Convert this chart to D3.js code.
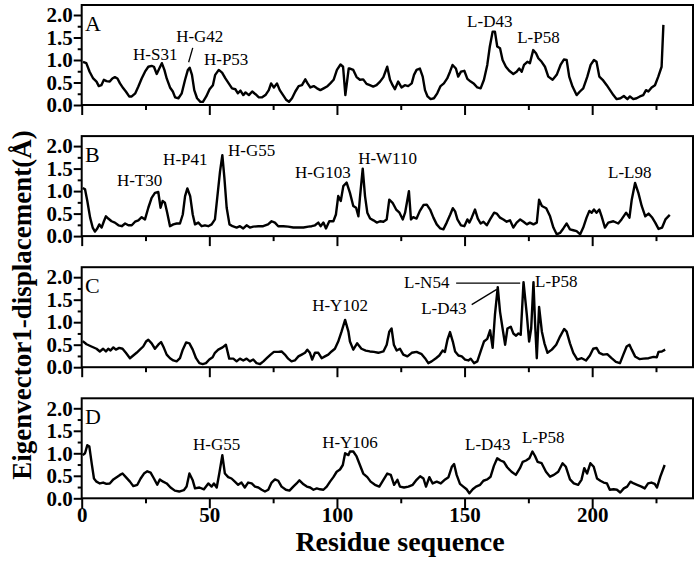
<!DOCTYPE html>
<html>
<head>
<meta charset="utf-8">
<script src="https://cdn.jsdelivr.net/npm/d3@7/dist/d3.min.js"></script>
<style>
  body { margin: 0; background: #fff; }
  svg text { font-family: "Liberation Serif", "Times New Roman", serif; }
</style>
</head>
<body>
<div id="chart"></div>
<script>
// residue, displacement pairs
let seriesA = [[0.5,0.96],[1.8,0.93],[3.1,0.74],[4.5,0.59],[5.8,0.52],[6.7,0.42],[7.7,0.44],[8.7,0.56],[9.7,0.53],[11,0.52],[12,0.59],[13,0.62],[14,0.59],[15,0.48],[16.3,0.37],[17.3,0.30],[18.6,0.19],[19.6,0.19],[21,0.26],[22.2,0.41],[23.5,0.59],[24.8,0.74],[26.1,0.85],[27.4,0.87],[28.3,0.85],[29.4,0.69],[30.4,0.81],[31.4,0.93],[32.4,0.78],[33.3,0.59],[34.6,0.39],[35.7,0.30],[36.6,0.17],[37.9,0.15],[39.2,0.26],[40.5,0.56],[41.6,0.78],[42.3,0.83],[43.2,0.67],[44.1,0.33],[45.2,0.15],[46.5,0.07],[47.5,0.07],[48.8,0.19],[50.1,0.35],[51.4,0.44],[52.3,0.67],[53.7,0.78],[55,0.72],[56.3,0.59],[57.6,0.48],[58.9,0.37],[60.2,0.35],[61.2,0.26],[62.2,0.32],[63.3,0.22],[64.2,0.28],[65.5,0.22],[66.8,0.30],[68.1,0.24],[69.4,0.17],[70.7,0.17],[72,0.22],[73.3,0.33],[74.2,0.48],[75.3,0.39],[76.5,0.48],[77.6,0.33],[78.9,0.22],[80.2,0.11],[81.2,0.07],[82.4,0.15],[83.7,0.30],[85,0.42],[86.3,0.44],[87.6,0.57],[88.5,0.48],[89.6,0.39],[90.9,0.42],[92.2,0.37],[93.5,0.33],[94.8,0.37],[96.1,0.41],[97.4,0.48],[98.7,0.56],[100,0.78],[101.4,0.90],[102.4,0.85],[103.3,0.22],[104.6,0.81],
  [105.1,0.81],[106.4,0.78],[107.7,0.62],[109.0,0.56],[110.3,0.57],[111.6,0.47],[112.9,0.44],[114.2,0.41],[115.5,0.44],[116.9,0.52],[118.2,0.62],[119.7,0.85],[120.8,0.56],[121.8,0.44],[122.7,0.35],[124.0,0.52],[125.3,0.39],[126.6,0.44],[127.9,0.42],[129.3,0.48],[130.2,0.67],[131.2,0.78],[132.5,0.81],[133.6,0.63],[134.5,0.33],[135.5,0.19],[136.7,0.13],[138.0,0.15],[139.3,0.26],[140.6,0.42],[141.9,0.48],[143.2,0.59],[144.3,0.74],[145.3,0.89],[146.6,0.81],[147.5,0.63],[148.6,0.74],[149.9,0.76],[151.1,0.58],[152.4,0.52],[153.7,0.47],[155.0,0.39],[156.3,0.37],[157.6,0.56],[158.9,0.89],[159.9,1.30],[161.0,1.63],[161.9,1.63],[162.8,1.30],[163.9,1.26],[164.9,1.00],[166.2,0.85],[167.5,0.76],[169.1,0.69],[170.4,0.74],[171.4,0.81],[172.4,0.74],[173.3,0.89],[174.6,0.96],[175.6,0.93],[176.9,1.22],[178.0,1.15],[178.9,1.04],[180.2,0.96],[181.5,0.85],[182.8,0.63],[184.5,0.56],[186.1,0.67],[187.6,0.89],[188.9,1.01],[190.0,1.00],[191.0,0.63],[192.3,0.41],[193.9,0.22],[195.2,0.30],[196.5,0.37],[198.1,0.63],[199.4,0.89],[200.7,1.00],[201.7,0.96],[202.8,0.63],[204.1,0.56],[205.7,0.44],[207.0,0.33],[208.3,0.22],[209.6,0.13],[211.1,0.15],[212.4,0.20],[213.8,0.13],[214.8,0.19],[216.1,0.13],[217.4,0.15],[218.7,0.19],[220.0,0.22],[221.1,0.33],[222.0,0.30],[223.3,0.39],[224.6,0.44],[225.9,0.63],[227.2,0.85],[227.9,1.78]];

let seriesB = [[0.4,1.07],[1.3,1.04],[2.2,0.78],[3.3,0.41],[4.3,0.19],[5.2,0.10],[6.1,0.17],[6.9,0.26],[7.8,0.19],[8.7,0.33],[9.5,0.44],[10.4,0.39],[11.7,0.33],[13.0,0.30],[14.4,0.24],[15.7,0.22],[17.0,0.28],[18.3,0.24],[19.6,0.24],[20.9,0.32],[22.2,0.35],[23.5,0.42],[24.8,0.37],[26.1,0.63],[27.4,0.85],[28.7,0.96],[30.0,0.98],[30.9,0.63],[31.7,0.78],[32.6,0.74],[33.5,0.52],[34.6,0.22],[35.9,0.26],[37.2,0.28],[38.5,0.28],[39.6,0.48],[40.5,0.89],[41.4,1.06],[42.5,0.89],[43.5,0.48],[44.4,0.26],[45.7,0.30],[47.0,0.22],[48.3,0.24],[49.6,0.22],[50.9,0.26],[52.2,0.37],[53.1,0.85],[54.2,1.44],[55.1,1.80],[55.9,1.30],[56.8,0.63],[57.9,0.26],[59.1,0.22],[60.7,0.19],[62.0,0.22],[63.3,0.17],[64.6,0.24],[65.9,0.19],[67.2,0.21],[69.2,0.22],[71.1,0.22],[73.0,0.26],[74.4,0.33],[75.7,0.30],[77.0,0.22],[79.0,0.22],[80.9,0.21],[82.9,0.19],[84.9,0.19],[86.9,0.19],[88.8,0.21],[90.1,0.22],[91.4,0.24],[92.7,0.30],[93.6,0.22],[94.7,0.30],[95.7,0.17],[97.0,0.33],[98.6,0.33],[99.6,0.48],[100.5,0.89],[101.5,0.78],[102.5,1.11],[103.8,1.19],
  [105.1,0.96],[106.4,0.67],[107.5,0.63],[108.4,0.44],[109.0,0.85],[110.1,1.50],[111.0,0.89],[111.9,0.52],[113.0,0.39],[114.3,0.35],[115.6,0.30],[116.9,0.33],[118.2,0.32],[119.5,0.37],[120.5,0.81],[121.8,0.74],[123.2,0.59],[124.5,0.52],[125.8,0.37],[126.7,0.52],[127.4,0.74],[128.2,1.00],[129.0,0.37],[129.9,0.42],[131.2,0.39],[132.5,0.56],[133.9,0.69],[135.2,0.70],[136.5,0.59],[137.8,0.41],[139.1,0.26],[140.5,0.17],[141.7,0.15],[143.0,0.30],[144.4,0.48],[145.4,0.62],[146.3,0.55],[147.2,0.37],[148.6,0.24],[149.9,0.22],[151.1,0.37],[151.9,0.30],[152.8,0.41],[154.1,0.59],[155.2,0.39],[156.3,0.28],[157.4,0.32],[158.7,0.24],[160.0,0.37],[161.6,0.52],[162.6,0.50],[163.9,0.41],[165.2,0.37],[166.5,0.32],[167.8,0.35],[169.1,0.19],[170.4,0.30],[171.8,0.37],[173.1,0.32],[174.4,0.26],[175.6,0.30],[177.0,0.26],[178.3,0.30],[179.2,0.81],[180.3,0.67],[182.0,0.62],[183.5,0.44],[184.8,0.19],[186.1,0.04],[187.4,0.07],[188.7,0.17],[190.0,0.28],[191.3,0.15],[192.6,0.13],[193.9,0.11],[195.3,0.04],[196.5,0.19],[197.8,0.41],[198.9,0.56],[199.8,0.52],[200.7,0.59],[201.7,0.52],[202.8,0.59],[203.7,0.44],[205.0,0.19],[206.3,0.30],[208.3,0.33],[210.2,0.28],[211.5,0.37],[213.3,0.52],[214.6,0.41],[215.5,0.81],[216.8,1.18],[218.1,0.96],[219.4,0.67],[220.8,0.44],[222.1,0.50],[223.4,0.42],[224.7,0.30],[226.0,0.16],[227.4,0.19],[228.7,0.37],[230.4,0.47]];

let seriesC = [[0.4,0.58],[1.9,0.51],[3.8,0.46],[5.8,0.41],[7.1,0.35],[8.4,0.41],[9.5,0.35],[10.4,0.41],[11.3,0.37],[12.4,0.44],[13.4,0.39],[14.7,0.43],[16.0,0.41],[17.3,0.32],[18.9,0.20],[20.2,0.26],[21.5,0.32],[22.8,0.39],[24.1,0.46],[25.2,0.57],[26.1,0.61],[27.4,0.53],[28.7,0.41],[30.0,0.50],[31.1,0.56],[32.2,0.43],[33.3,0.28],[34.6,0.20],[35.9,0.15],[37.2,0.13],[38.5,0.20],[39.6,0.39],[40.9,0.55],[42.2,0.53],[43.5,0.39],[44.8,0.20],[46.1,0.09],[47.4,0.07],[48.7,0.09],[50.0,0.17],[51.3,0.22],[52.2,0.32],[53.5,0.39],[55.2,0.44],[56.5,0.50],[57.8,0.19],[59.4,0.19],[60.7,0.13],[62.0,0.19],[63.3,0.15],[64.6,0.19],[65.9,0.13],[67.2,0.17],[68.5,0.09],[69.9,0.07],[71.2,0.13],[72.5,0.20],[74.0,0.28],[75.3,0.34],[77.0,0.34],[78.3,0.35],[79.6,0.28],[80.9,0.19],[82.2,0.13],[83.5,0.15],[84.9,0.24],[86.2,0.28],[87.5,0.32],[88.4,0.39],[89.4,0.32],[90.3,0.17],[91.4,0.32],[92.7,0.32],[94.0,0.20],[95.3,0.24],[96.6,0.28],[97.9,0.35],[99.2,0.41],[100.5,0.57],[101.8,0.79],[103.2,1.05],[104.5,0.79],
  [105.1,0.57],[106.4,0.39],[107.9,0.53],[109.6,0.41],[111.3,0.37],[112.9,0.35],[114.5,0.34],[116.2,0.32],[118.2,0.35],[119.5,0.50],[120.5,0.79],[121.4,0.86],[122.3,0.50],[123.4,0.37],[124.7,0.41],[126.0,0.28],[127.6,0.24],[129.3,0.32],[131.2,0.34],[133.2,0.29],[134.5,0.20],[135.8,0.09],[137.1,0.13],[138.8,0.20],[140.1,0.26],[141.4,0.37],[142.3,0.34],[143.3,0.61],[144.3,0.78],[145.4,0.57],[146.3,0.35],[147.6,0.26],[148.9,0.24],[150.2,0.17],[151.5,0.15],[152.4,0.19],[153.7,0.09],[155.0,0.13],[156.3,0.35],[157.6,0.57],[158.9,0.63],[160.0,0.82],[161.0,0.43],[161.9,1.16],[163.0,1.78],[163.9,1.23],[164.9,0.86],[165.9,0.50],[166.8,0.86],[168.1,0.90],[169.1,0.75],[170.2,0.70],[171.1,0.75],[172.0,0.72],[173.1,1.89],[174.4,1.16],[175.3,0.57],[176.1,0.86],[177.0,1.89],[177.6,1.01],[178.3,0.20],[179.2,1.34],[180.3,0.79],[181.3,0.53],[182.5,0.32],[184.2,0.39],[185.9,0.50],[187.4,0.68],[189.0,0.85],[190.0,0.79],[191.3,0.53],[192.6,0.32],[194.2,0.17],[195.9,0.20],[197.6,0.15],[199.1,0.26],[200.4,0.41],[201.7,0.43],[202.8,0.32],[204.3,0.28],[205.9,0.29],[207.6,0.20],[209.3,0.12],[210.9,0.09],[212.2,0.28],[213.5,0.46],[214.6,0.50],[215.5,0.39],[216.8,0.24],[218.5,0.18],[220.1,0.19],[222.1,0.20],[224.0,0.23],[225.3,0.22],[226.0,0.34],[227.3,0.35],[228.6,0.39]];

let seriesD = [[0.4,0.96],[1.3,1.00],[2.2,1.18],[3.0,1.15],[3.9,0.78],[4.8,0.44],[5.8,0.37],[7.1,0.33],[8.4,0.35],[9.7,0.32],[11.0,0.33],[12.4,0.42],[13.7,0.47],[15.0,0.52],[16.0,0.55],[17.3,0.47],[18.9,0.37],[20.2,0.27],[21.8,0.30],[23.1,0.44],[24.4,0.55],[25.7,0.60],[27.0,0.57],[28.3,0.44],[29.6,0.30],[30.6,0.42],[31.9,0.37],[33.3,0.33],[34.8,0.24],[36.5,0.17],[38.2,0.15],[40.0,0.18],[41.1,0.26],[42.2,0.55],[43.5,0.40],[44.4,0.22],[46.1,0.24],[47.9,0.20],[49.6,0.33],[50.9,0.26],[51.8,0.33],[52.9,0.24],[53.9,0.55],[55.1,0.96],[56.1,0.55],[57.4,0.47],[58.7,0.44],[60.0,0.37],[61.3,0.30],[62.6,0.35],[63.9,0.24],[65.2,0.35],[66.6,0.33],[67.9,0.26],[69.2,0.24],[70.5,0.19],[71.8,0.15],[73.1,0.19],[74.4,0.35],[75.7,0.42],[77.0,0.39],[78.3,0.26],[80.0,0.19],[81.4,0.17],[82.9,0.26],[84.2,0.33],[85.3,0.40],[86.9,0.31],[88.2,0.26],[89.5,0.24],[90.8,0.19],[92.1,0.22],[93.4,0.20],[94.7,0.19],[96.0,0.26],[97.3,0.37],[98.6,0.47],[99.9,0.59],[101.2,0.64],[102.3,0.74],[103.2,1.00],[104.5,0.96],
  [105.1,1.04],[106.4,1.04],[107.7,0.93],[109.0,0.74],[110.3,0.55],[111.9,0.47],[113.2,0.37],[114.9,0.30],[116.6,0.26],[118.2,0.41],[119.7,0.55],[121.1,0.52],[122.4,0.30],[123.7,0.41],[124.7,0.26],[126.3,0.24],[128.0,0.26],[129.7,0.30],[131.2,0.41],[132.6,0.49],[133.9,0.44],[134.9,0.26],[136.2,0.47],[137.5,0.33],[139.1,0.37],[140.7,0.33],[142.4,0.42],[143.7,0.47],[145.0,0.70],[145.9,0.76],[146.9,0.52],[148.2,0.32],[149.5,0.26],[150.8,0.20],[151.9,0.11],[153.2,0.20],[154.5,0.26],[156.1,0.30],[157.4,0.39],[158.9,0.42],[160.2,0.48],[161.5,0.72],[162.8,0.89],[164.1,0.84],[165.4,0.81],[166.7,0.69],[168.4,0.59],[170.1,0.52],[171.7,0.67],[172.8,0.81],[174.1,0.84],[175.4,0.89],[176.6,1.04],[177.6,0.94],[178.6,0.81],[180.2,0.78],[181.9,0.59],[183.5,0.48],[185.0,0.52],[186.7,0.59],[188.4,0.78],[189.7,0.70],[191.3,0.42],[192.8,0.33],[194.5,0.30],[195.8,0.41],[196.9,0.67],[198.0,0.55],[199.3,0.78],[200.6,0.70],[201.9,0.44],[203.2,0.39],[204.5,0.35],[205.8,0.33],[206.9,0.19],[208.4,0.20],[209.7,0.19],[211.0,0.13],[212.4,0.22],[213.7,0.26],[215.0,0.37],[216.3,0.33],[217.6,0.30],[219.3,0.26],[220.6,0.22],[221.9,0.33],[223.2,0.35],[224.5,0.32],[225.4,0.24],[226.7,0.48],[228.4,0.74]];

let panelNames = ["A", "B", "C", "D"];
let xMajor = [0, 50, 100, 150, 200];
let xMinor = [25, 75, 125, 175, 225];
let yMajor = [0, 0.5, 1.0, 1.5, 2.0];
let yMinor = [0.25, 0.75, 1.25, 1.75];

// peak labels: text + anchor (residue, value) of the label's start/baseline
let notesA = [["H-S31", 20.1, 1.00], ["H-G42", 37.0, 1.40], ["H-P53", 47.9, 0.89], ["L-D43", 151.0, 1.73], ["L-P58", 170.6, 1.38]];
let notesB = [["H-T30", 13.8, 1.12], ["H-P41", 31.9, 1.57], ["H-G55", 57.3, 1.77], ["H-G103", 83.6, 1.28], ["H-W110", 108.3, 1.61], ["L-L98", 206.2, 1.30]];
let notesC = [["H-Y102", 90.3, 1.24], ["L-N54", 126.3, 1.76], ["L-D43", 133.0, 1.18], ["L-P58", 177.6, 1.78]];
let notesD = [["H-G55", 43.6, 1.07], ["H-Y106", 94.2, 1.12], ["L-D43", 150.2, 1.07], ["L-P58", 172.5, 1.23]];
// leader lines [res1, val1, res2, val2]
let leadersA = [[43.5, 1.27, 41.9, 0.95]];
let leadersC = [[146.7, 1.87, 171.8, 1.87], [152.8, 1.39, 162.6, 1.73]];

let width = 700, height = 562;
let margin = {left: 81.7, right: 7, top: 5};
let panelH = 100, panelStep = 131.1;

let svg = d3.select("#chart")
    .append("svg")
    .attr("width", width)
    .attr("height", height);

let x = d3.scaleLinear()
    .domain([0, 239.5])
    .range([margin.left, width - margin.right]);

let panels = [
    {name: panelNames[0], data: seriesA, notes: notesA, leaders: leadersA},
    {name: panelNames[1], data: seriesB, notes: notesB, leaders: []},
    {name: panelNames[2], data: seriesC, notes: notesC, leaders: leadersC},
    {name: panelNames[3], data: seriesD, notes: notesD, leaders: []}
];

panels.forEach(function(p, i) {
    let top = margin.top + i * panelStep;
    let y = d3.scaleLinear()
        .domain([0, 2.222])
        .range([top + panelH, top]);
    let g = svg.append("g");

    // x ticks
    g.append("g")
        .attr("transform", `translate(0, ${top + panelH})`)
        .call(d3.axisBottom(x).tickValues(xMajor).tickSize(10).tickPadding(-1)
            .tickFormat(i == 3 ? d3.format("d") : ""));
    g.append("g")
        .attr("transform", `translate(0, ${top + panelH})`)
        .call(d3.axisBottom(x).tickValues(xMinor).tickSize(5).tickFormat(""));

    // y ticks
    g.append("g")
        .attr("transform", `translate(${margin.left}, 0)`)
        .call(d3.axisLeft(y).tickValues(yMajor).tickSize(8).tickPadding(1)
            .tickFormat(d3.format(".1f")));
    g.append("g")
        .attr("transform", `translate(${margin.left}, 0)`)
        .call(d3.axisLeft(y).tickValues(yMinor).tickSize(4).tickFormat(""));

    g.selectAll(".domain").remove();
    g.selectAll(".tick line").attr("stroke", "#000").attr("stroke-width", 2);
    g.selectAll(".tick text")
        .attr("fill", "#000")
        .style("font-size", "21px")
        .style("font-weight", "bold");

    g.append("rect")
        .attr("x", x(0))
        .attr("y", top)
        .attr("width", x(239.5) - x(0))
        .attr("height", panelH)
        .attr("fill", "none")
        .attr("stroke", "#000")
        .attr("stroke-width", 2);

    let line = d3.line()
        .x(d => x(d[0]))
        .y(d => y(d[1]));

    g.append("path")
        .datum(p.data)
        .attr("d", line)
        .attr("fill", "none")
        .attr("stroke", "#000")
        .attr("stroke-width", 2.4)
        .attr("stroke-linejoin", "round");

    g.append("text")
        .attr("x", x(1.3))
        .attr("y", y(1.65))
        .style("font-size", "22px")
        .text(p.name);

    g.selectAll(".note")
        .data(p.notes)
        .enter()
        .append("text")
        .attr("x", d => x(d[1]))
        .attr("y", d => y(d[2]))
        .style("font-size", "17px")
        .text(d => d[0]);

    g.selectAll(".leader")
        .data(p.leaders)
        .enter()
        .append("line")
        .attr("x1", d => x(d[0]))
        .attr("y1", d => y(d[1]))
        .attr("x2", d => x(d[2]))
        .attr("y2", d => y(d[3]))
        .attr("stroke", "#000")
        .attr("stroke-width", 1.3);
});

svg.append("text")
    .attr("x", 400)
    .attr("y", 551)
    .style("text-anchor", "middle")
    .style("font-size", "28px")
    .style("font-weight", "bold")
    .text("Residue sequence");

svg.append("text")
    .attr("transform", "translate(31, 305) rotate(-90)")
    .style("text-anchor", "middle")
    .style("font-size", "27px")
    .style("font-weight", "bold")
    .text("Eigenvector1-displacement(Å)");
</script>
</body>
</html>
